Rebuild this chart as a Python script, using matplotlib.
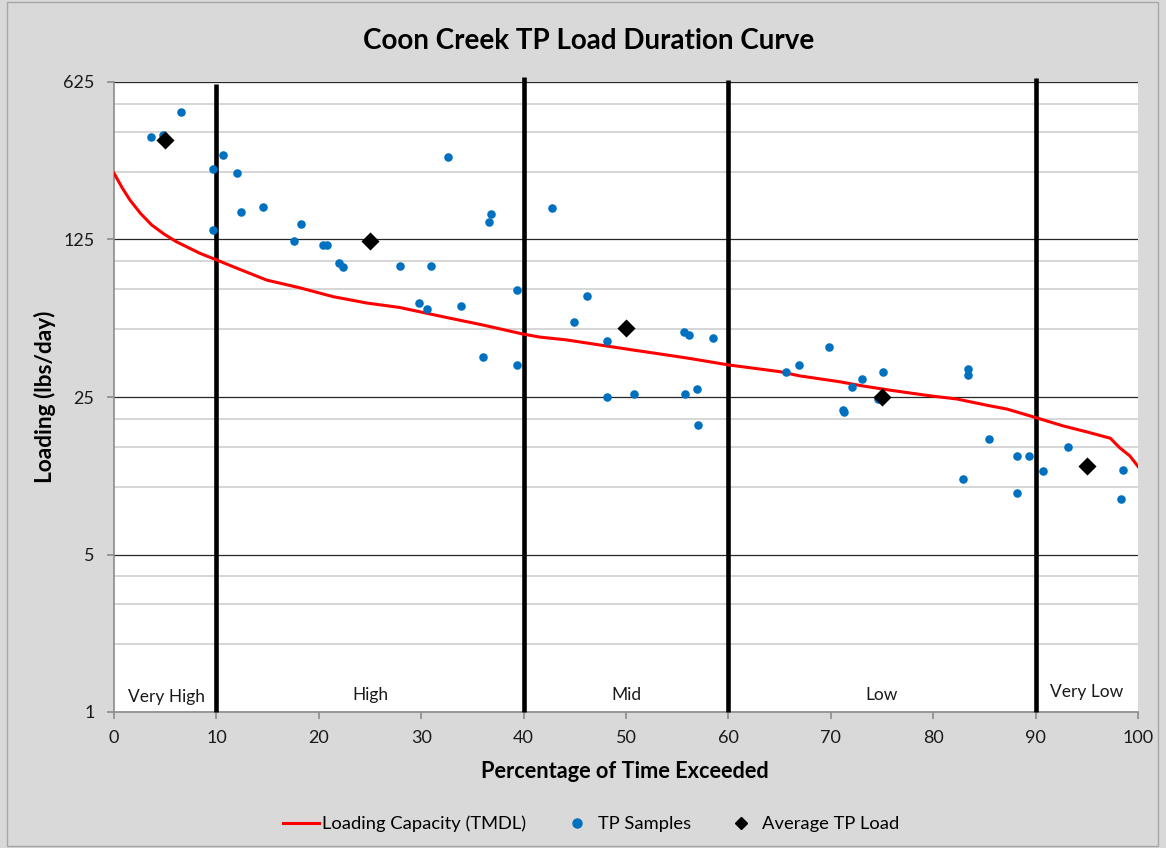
import matplotlib
matplotlib.use("Agg")
import matplotlib.pyplot as plt
from matplotlib.ticker import FixedLocator, NullFormatter
from matplotlib.lines import Line2D
from matplotlib.patches import Rectangle
import numpy as np

plt.rcParams['font.family'] = ['Lato', 'DejaVu Sans']

# Loading capacity (TMDL) curve
tmdl_x = [0, 0.8, 1.56, 2.6, 3.68, 4.9, 6.12, 8.4, 10.03, 11.7, 14.9, 18.2, 21.4, 24.7, 27.9, 32.1,
          36.0, 39.9, 41.6, 44.2, 47.5, 50.7, 54.0, 56.5, 60.0, 65.0, 67.0, 70.9,
          73.1, 75.8, 79.7, 82.3, 85.2, 87.2, 90.1, 92.7, 95.0, 97.3, 98.2, 99.2, 100]
tmdl_y = [246, 212, 187, 163, 145, 132, 122, 108.5, 101.4, 94.4, 82.6, 76.2, 69.7, 65.3, 62.4, 56.8,
          52.2, 47.6, 46.1, 44.8, 42.5, 40.4, 38.4, 36.9, 34.7, 32.4, 31.0, 29.2,
          28.0, 26.8, 25.3, 24.5, 23.0, 22.1, 20.2, 18.6, 17.5, 16.4, 14.9, 13.7, 12.3]

# TP samples
tp_x = [3.61, 4.76, 6.51, 9.70, 10.67, 12.01, 9.64, 12.43, 14.52, 18.26, 17.55, 20.38,
        20.77, 21.94, 22.33, 27.93, 32.62, 36.85, 36.59, 30.99, 39.33, 29.81, 30.54,
        33.86, 36.01, 39.36, 42.74, 46.19, 44.89, 48.17, 48.17, 50.75, 55.66, 56.12,
        58.53, 55.73, 56.93, 57.06, 65.65, 66.86, 69.79, 71.22, 71.26, 72.04, 73.02,
        74.64, 75.10, 83.40, 83.40, 82.91, 85.42, 88.21, 89.33, 88.21, 90.72, 93.19,
        98.54, 98.37]
tp_y = [355, 362, 460, 258, 296, 246, 138, 166, 174, 146, 123, 118,
        118, 98.6, 94.7, 95.4, 289, 163, 149, 95.4, 74.6, 65.6, 61.3,
        63.4, 37.5, 34.6, 173, 70.0, 53.8, 44.2, 25.1, 25.8, 48.6, 47.0,
        45.5, 25.9, 27.1, 18.8, 32.3, 34.6, 41.6, 21.9, 21.5, 27.8, 30.0,
        24.6, 32.3, 33.2, 31.2, 10.85, 16.2, 13.7, 13.7, 9.40, 11.7, 15.0,
        11.8, 8.79]

# Average TP load per flow zone
avg_x = [5, 25, 50, 75, 95]
avg_y = [344, 123.5, 50.4, 25.1, 12.4]

# Flow zones
zone_bounds = [10, 40, 60, 90]
zone_tops = [610, 655, 640, 650]
zone_labels = ["Very High", "High", "Mid", "Low", "Very Low"]
zone_label_x = [5.1, 25, 50, 75, 95]
zone_label_y = [1.17, 1.19, 1.19, 1.19, 1.23]

y_major = [1, 5, 25, 125, 625]
y_minor = [m * b for b in [1, 5, 25, 125] for m in (2, 3, 4)]
x_ticks = list(range(0, 101, 10))

W, H = 1166, 848
fig = plt.figure(figsize=(W / 100, H / 100), dpi=100, facecolor='#d9d9d9')
fig.patches.append(Rectangle((7 / W, 2 / H), (1158 - 7) / W, (846 - 2) / H,
                             transform=fig.transFigure, fill=False,
                             edgecolor='#a6a6a6', lw=1))
ax = fig.add_axes([114 / W, 1 - 712 / H, (1138 - 114) / W, (712 - 82) / H])
ax.set_facecolor('white')

ax.set_yscale('log', base=5)
ax.set_ylim(1, 625)
ax.set_xlim(0, 100)

ax.yaxis.set_major_locator(FixedLocator(y_major))
ax.yaxis.set_minor_locator(FixedLocator(y_minor))
ax.yaxis.set_minor_formatter(NullFormatter())
ax.set_yticklabels([str(v) for v in y_major])
ax.set_xticks(x_ticks)

ax.grid(True, which='major', axis='y', color='#262626', lw=0.9, zorder=0)
ax.grid(True, which='minor', axis='y', color='#cfcfcf', lw=1.2, zorder=0)
ax.set_axisbelow(True)

for s in ['top', 'right']:
    ax.spines[s].set_visible(False)
for s in ['left', 'bottom']:
    ax.spines[s].set_color('#8c8c8c')
    ax.spines[s].set_linewidth(1.2)

ax.tick_params(axis='both', which='major', labelsize=13, color='#8c8c8c',
               length=5, width=1.2, direction='out', labelcolor='#1a1a1a')
ax.tick_params(axis='y', which='minor', length=0)
ax.tick_params(axis='x', pad=8)
ax.tick_params(axis='y', pad=9)

for b, t in zip(zone_bounds, zone_tops):
    ax.plot([b, b], [1, t], color='black', lw=3.3, clip_on=False, zorder=3,
            solid_capstyle='butt')

ax.plot(tmdl_x, tmdl_y, color='#ff0000', lw=2.2, zorder=4)
ax.scatter(tp_x, tp_y, s=38, color='#0070c0', zorder=5, linewidths=0)
ax.scatter(avg_x, avg_y, s=85, marker='D', color='black', zorder=6, linewidths=0)

for lx, ly, lab in zip(zone_label_x, zone_label_y, zone_labels):
    ax.text(lx, ly, lab, ha='center', va='center', fontsize=12.5, color='#1a1a1a',
            zorder=7)

fig.text(589 / W, 1 - 41 / H, "Coon Creek TP Load Duration Curve", ha='center',
         va='center', fontsize=20, fontweight='bold', color='black')
fig.text(625 / W, 1 - 772 / H, "Percentage of Time Exceeded", ha='center',
         va='center', fontsize=15.7, fontweight='bold', color='black')
fig.text(45 / W, 1 - 397 / H, "Loading (lbs/day)", ha='center', va='center',
         rotation=90, fontsize=16.3, fontweight='bold', color='black')

handles = [Line2D([0], [0], color='#ff0000', lw=2.2),
           Line2D([0], [0], marker='o', color='#0070c0', lw=0, markersize=6.5),
           Line2D([0], [0], marker='D', color='black', lw=0, markersize=6.5)]
labels = ["Loading Capacity (TMDL)", "TP Samples", "Average TP Load"]
fig.legend(handles, labels, loc='center', bbox_to_anchor=(591 / W, 1 - 824 / H),
           ncol=3, frameon=False, fontsize=13.2, handlelength=2.0,
           handletextpad=0.15, columnspacing=1.75)

fig.savefig("out.png", dpi=100, facecolor=fig.get_facecolor())
